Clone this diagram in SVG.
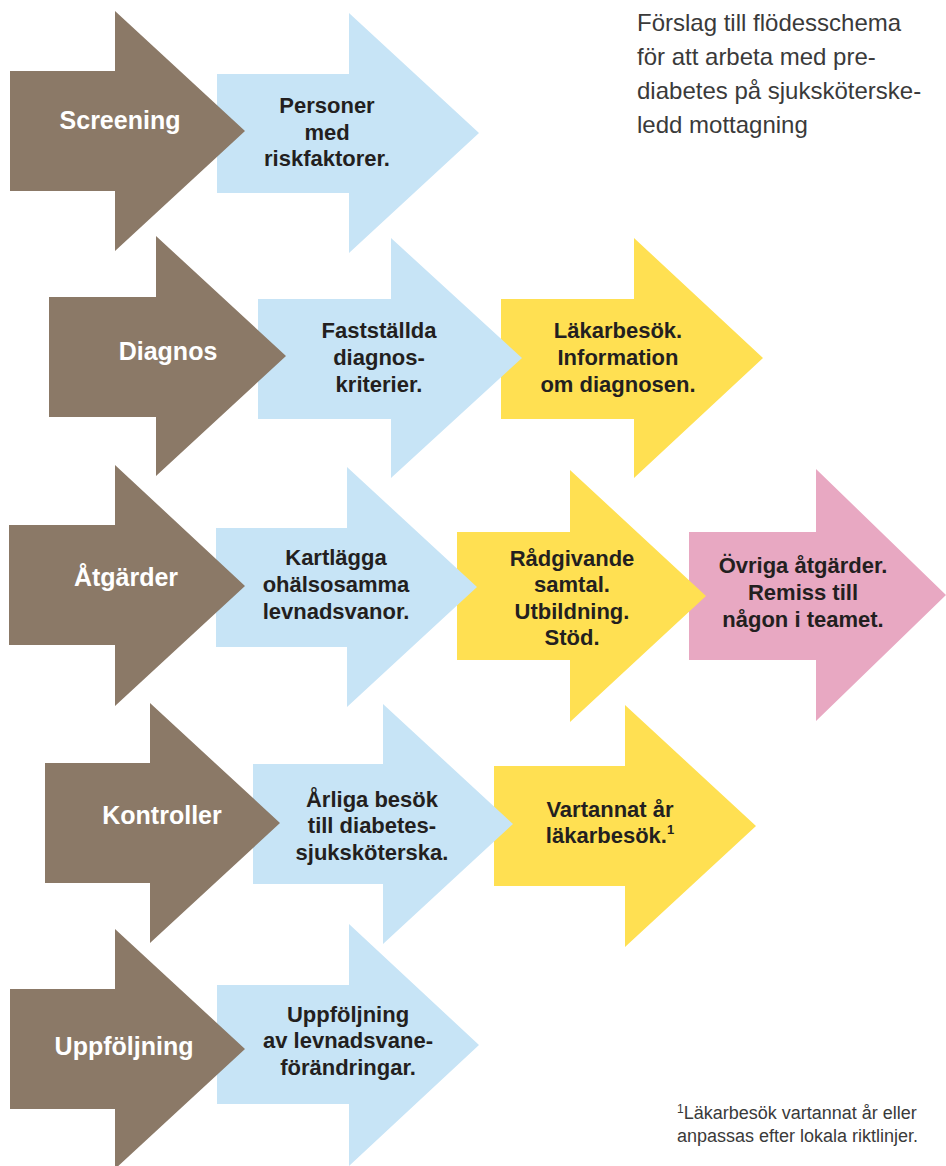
<svg xmlns="http://www.w3.org/2000/svg" width="946" height="1166" viewBox="0 0 946 1166">
<style>
.brown{fill:#8b7967}
.blue{fill:#c7e4f6}
.yellow{fill:#ffe052}
.pink{fill:#e8a8c2}
.lbl{font-family:"Liberation Sans",Arial,sans-serif;font-weight:bold;font-size:25px;fill:#ffffff;text-anchor:middle}
.txt{font-family:"Liberation Sans",Arial,sans-serif;font-weight:bold;font-size:22px;fill:#231f20;text-anchor:middle}
.title{font-family:"Liberation Sans",Arial,sans-serif;font-size:24px;fill:#3a3a3a}
.note{font-family:"Liberation Sans",Arial,sans-serif;font-size:18px;fill:#3a3a3a}
</style>
<rect width="946" height="1166" fill="#ffffff"/>
<g id="connectors"></g>

<!-- Row 1 -->
<g id="personer">
<path class="blue" d="M217,74 H349 V13 L479,133 L349,253 V193 H217 Z"/>
<text class="txt"><tspan x="327" y="113">Personer</tspan><tspan x="327" y="139.5">med</tspan><tspan x="327" y="166">riskfaktorer.</tspan></text>
</g>
<g id="screening">
<path class="brown" d="M10,71 H115 V11 L245,131 L115,251 V191 H10 Z"/>
<text class="lbl" x="120" y="129">Screening</text>
</g>

<!-- Row 2 -->
<g id="lakarbesok">
<path class="yellow" d="M501,299 H634 V238 L763,358 L634,478 V419 H501 Z"/>
<text class="txt"><tspan x="618" y="338">Läkarbesök.</tspan><tspan x="618" y="365">Information</tspan><tspan x="618" y="392">om diagnosen.</tspan></text>
</g>
<g id="faststallda">
<path class="blue" d="M258,299 H391 V238 L522,358 L391,478 V419 H258 Z"/>
<text class="txt"><tspan x="379" y="338">Fastställda</tspan><tspan x="379" y="365">diagnos-</tspan><tspan x="379" y="392">kriterier.</tspan></text>
</g>
<g id="diagnos">
<path class="brown" d="M49,297 H156 V236 L286,356 L156,476 V417 H49 Z"/>
<text class="lbl" x="168" y="360">Diagnos</text>
</g>

<!-- Row 3 -->
<g id="ovriga">
<path class="pink" d="M689,532 H816 V469 L946,595 L816,721 V660 H689 Z"/>
<text class="txt"><tspan x="803" y="573">Övriga åtgärder.</tspan><tspan x="803" y="600">Remiss till</tspan><tspan x="803" y="627">någon i teamet.</tspan></text>
</g>
<g id="radgivande">
<path class="yellow" d="M457,532 H570 V470 L706,596 L570,722 V660 H457 Z"/>
<text class="txt"><tspan x="572" y="566">Rådgivande</tspan><tspan x="572" y="592">samtal.</tspan><tspan x="572" y="619">Utbildning.</tspan><tspan x="572" y="645">Stöd.</tspan></text>
</g>
<g id="kartlagga">
<path class="blue" d="M216,528 H347 V467 L477,587 L347,707 V647 H216 Z"/>
<text class="txt"><tspan x="336" y="565">Kartlägga</tspan><tspan x="336" y="592">ohälsosamma</tspan><tspan x="336" y="619">levnadsvanor.</tspan></text>
</g>
<g id="atgarder">
<path class="brown" d="M9,525 H115 V465 L245,586 L115,706 V645 H9 Z"/>
<text class="lbl" x="126" y="586">Åtgärder</text>
</g>

<!-- Row 4 -->
<g id="vartannat">
<path class="yellow" d="M494,766 H625 V705 L756,826 L625,947 V886 H494 Z"/>
<text class="txt"><tspan x="610" y="817">Vartannat år</tspan><tspan x="610" y="843">läkarbesök.<tspan font-size="13" dy="-9">1</tspan></tspan></text>
</g>
<g id="arliga">
<path class="blue" d="M253,764 H383 V704 L513,824 L383,944 V884 H253 Z"/>
<text class="txt"><tspan x="372" y="807">Årliga besök</tspan><tspan x="372" y="833">till diabetes-</tspan><tspan x="372" y="860">sjuksköterska.</tspan></text>
</g>
<g id="kontroller">
<path class="brown" d="M45,763 H150 V703 L280,823 L150,943 V883 H45 Z"/>
<text class="lbl" x="162" y="824">Kontroller</text>
</g>

<!-- Row 5 -->
<g id="uppfoljning-levnadsvanor">
<path class="blue" d="M217,985 H349 V924 L479,1045 L349,1166 V1104 H217 Z"/>
<text class="txt"><tspan x="348" y="1022">Uppföljning</tspan><tspan x="348" y="1048">av levnadsvane-</tspan><tspan x="348" y="1075">förändringar.</tspan></text>
</g>
<g id="uppfoljning">
<path class="brown" d="M10,989 H115 V929 L245,1049 L115,1169 V1109 H10 Z"/>
<text class="lbl" x="124" y="1055">Uppföljning</text>
</g>

<!-- Title -->
<g id="title">
<text class="title"><tspan x="637" y="31">Förslag till flödesschema</tspan><tspan x="637" y="65">för att arbeta med pre-</tspan><tspan x="637" y="99">diabetes på sjuksköterske-</tspan><tspan x="637" y="133">ledd mottagning</tspan></text>
</g>

<!-- Footnote -->
<g id="footnote">
<text class="note"><tspan x="677" y="1119"><tspan font-size="12" dy="-6">1</tspan><tspan dy="6">Läkarbesök vartannat år eller</tspan></tspan><tspan x="677" y="1142">anpassas efter lokala riktlinjer.</tspan></text>
</g>
</svg>
